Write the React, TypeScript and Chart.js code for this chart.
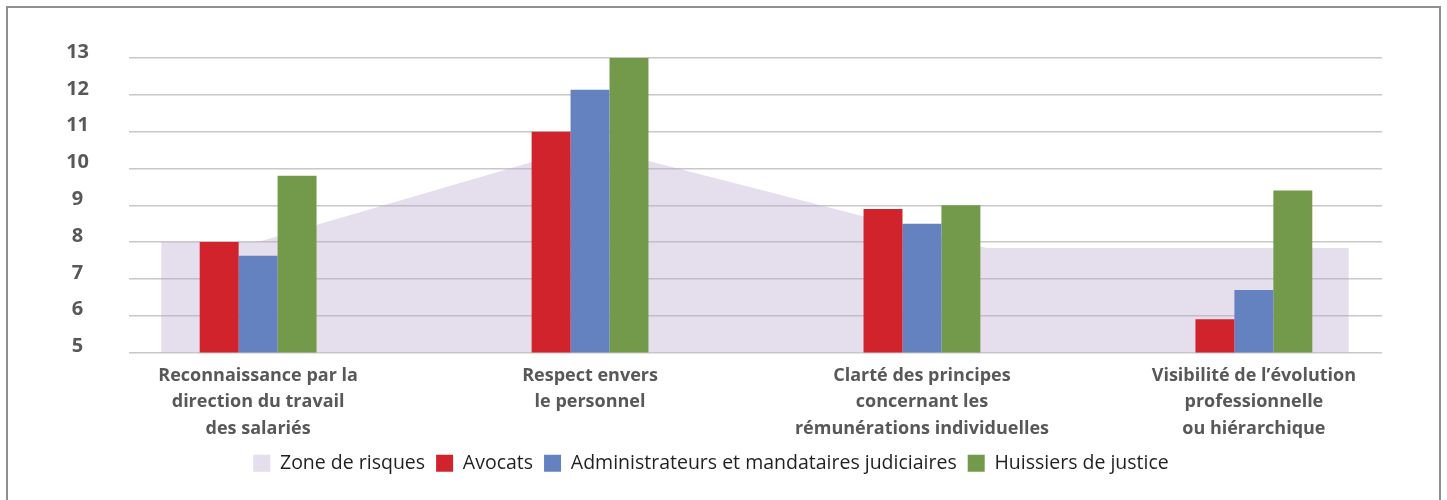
import React, { useEffect, useRef } from 'react';
import { Chart, registerables } from 'chart.js';

Chart.register(...registerables);

// ---- Data ----
const categoryLabels: string[][] = [
  ['Reconnaissance par la', 'direction du travail', 'des salariés'],
  ['Respect envers', 'le personnel'],
  ['Clarté des principes', 'concernant les', 'rémunérations individuelles'],
  ['Visibilité de l’évolution', 'professionnelle', 'ou hiérarchique'],
];
const categoryPositions = [0.5, 1.5, 2.5, 3.5];

const avocats = [8.0, 11.0, 8.9, 5.9];
const administrateurs = [7.63, 12.14, 8.5, 6.7];
const huissiers = [9.8, 13.0, 9.0, 9.4];

// Zone de risques outline (x in category units, y in score)
const zoneX = [0.208, 0.5, 1.495, 2.695, 3.786];
const zoneY = [8.0, 8.0, 10.62, 7.84, 7.84];

const yTicks = [5, 6, 7, 8, 9, 10, 11, 12, 13];
const xRange = [0.111, 3.886];

const seriesNames = ['Zone de risques', 'Avocats', 'Administrateurs et mandataires judiciaires', 'Huissiers de justice'];

const COLORS = {
  zone: 'rgba(184,164,204,0.36)',
  red: '#d0232b',
  blue: '#6482c0',
  green: '#739a4a',
  grid: '#c8c8c8',
  axisText: '#58585a',
  legendText: '#231f20',
};

const FONT = "'Open Sans', 'DejaVu Sans', sans-serif";

export default function App() {
  const canvasRef = useRef<HTMLCanvasElement | null>(null);

  useEffect(() => {
    const canvas = canvasRef.current;
    if (!canvas) return;
    const chart = new Chart(canvas, {
      type: 'bar',
      data: {
        datasets: [
          {
            type: 'line',
            label: seriesNames[0],
            data: zoneX.map((x, i) => ({ x, y: zoneY[i] })),
            backgroundColor: COLORS.zone,
            borderColor: 'rgba(0,0,0,0)',
            borderWidth: 0,
            pointRadius: 0,
            fill: 'start',
            tension: 0,
            order: 2,
          } as any,
          {
            label: seriesNames[1],
            data: categoryPositions.map((x, i) => ({ x, y: avocats[i] })),
            backgroundColor: COLORS.red,
            order: 1,
          },
          {
            label: seriesNames[2],
            data: categoryPositions.map((x, i) => ({ x, y: administrateurs[i] })),
            backgroundColor: COLORS.blue,
            order: 1,
          },
          {
            label: seriesNames[3],
            data: categoryPositions.map((x, i) => ({ x, y: huissiers[i] })),
            backgroundColor: COLORS.green,
            order: 1,
          },
        ],
      },
      options: {
        responsive: false,
        animation: false,
        layout: { padding: { left: 40, right: 65, top: 58, bottom: 17 } },
        datasets: {
          bar: { categoryPercentage: 0.352, barPercentage: 1, borderWidth: 0 },
        } as any,
        plugins: {
          legend: {
            position: 'bottom',
            labels: {
              boxWidth: 17,
              boxHeight: 17,
              padding: 11,
              color: COLORS.legendText,
              font: { family: FONT, size: 19.5, weight: 'normal' },
              sort: (a: any, b: any) => a.datasetIndex - b.datasetIndex,
            },
          },
          tooltip: { enabled: false },
        },
        scales: {
          x: {
            type: 'linear',
            min: xRange[0],
            max: xRange[1],
            offset: false,
            grid: { display: false, offset: false },
            border: { display: false },
            afterBuildTicks: (axis: any) => {
              axis.ticks = categoryPositions.map((v) => ({ value: v }));
            },
            afterFit: (axis: any) => {
              axis.height = 90;
            },
            ticks: {
              autoSkip: false,
              maxRotation: 0,
              minRotation: 0,
              padding: 2,
              color: COLORS.axisText,
              font: { family: FONT, size: 18, weight: 'bold', lineHeight: 1.47 },
              callback: (_v: any, i: number) => categoryLabels[i],
            },
          },
          y: {
            type: 'linear',
            min: 5,
            max: 13,
            afterBuildTicks: (axis: any) => {
              axis.ticks = yTicks.map((v) => ({ value: v }));
            },
            afterFit: (axis: any) => {
              axis.width = 89;
            },
            grid: { color: COLORS.grid, lineWidth: 1.5, drawTicks: false },
            border: { display: false },
            ticks: {
              padding: 40,
              crossAlign: 'center',
              labelOffset: -6,
              color: COLORS.axisText,
              font: { family: FONT, size: 20, weight: 'bold' },
            },
          },
        },
      } as any,
    });
    return () => chart.destroy();
  }, []);

  return (
    <div
      style={{
        position: 'absolute',
        left: 0,
        top: 0,
        width: 1447,
        height: 500,
        overflow: 'hidden',
        background: '#ffffff',
      }}
    >
      <div
        style={{
          position: 'absolute',
          left: 6,
          top: 6,
          width: 1435,
          height: 600,
          border: '2px solid #8f8f8f',
          boxSizing: 'border-box',
        }}
      />
      <canvas
        ref={canvasRef}
        width={1447}
        height={500}
        style={{ position: 'absolute', left: 0, top: 0 }}
      />
    </div>
  );
}
